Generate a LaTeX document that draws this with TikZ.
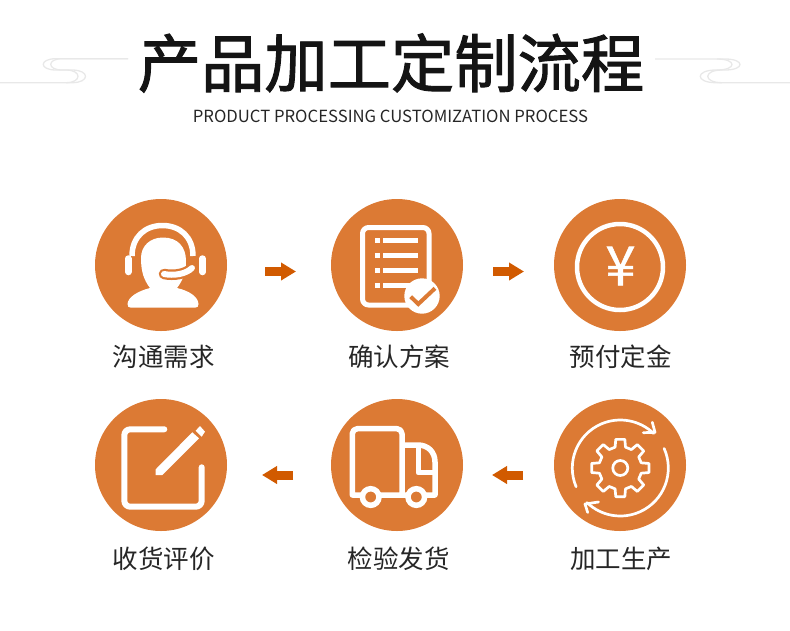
\documentclass[tikz,border=0pt]{standalone}
\usepackage{fontspec}
\usetikzlibrary{positioning,arrows.meta}
\newfontfamily\cjkfont{Noto Sans CJK SC}
\newfontfamily\headfont[FakeBold=1.5]{Noto Sans CJK SC}
\newfontfamily\yenfont[FakeBold=1]{Noto Sans CJK SC}
\definecolor{badgefill}{RGB}{220,122,52}
\definecolor{arrowfill}{RGB}{209,90,0}
\definecolor{swirl}{RGB}{232,232,232}
\tikzset{
  >=Triangle,
}

\begin{document}
\begin{tikzpicture}[
  x=1pt,y=-1pt,
  badge/.style={circle,fill=badgefill,minimum size=132pt,inner sep=0pt,outer sep=0pt},
  caption/.style={font=\cjkfont\fontsize{25.5}{26}\selectfont,text=black!85,inner sep=0pt},
  flow/.style={arrowfill,line width=9pt,-{Triangle[length=15pt,width=17pt]}},
  icon/.style={draw=white,line width=5pt,line join=round},
  swirlline/.style={draw=swirl,line width=1.3pt}
]
\useasboundingbox (0,0) rectangle (790,630);

% heading
\node[font=\headfont\fontsize{63.3}{64}\selectfont,text=black!92,inner sep=0pt] (title) at (391,63) {产品加工定制流程};
\node[font=\cjkfont\fontsize{16.7}{17}\selectfont,text=black!85,inner sep=0pt] (subtitle) at (390.5,116) {PRODUCT PROCESSING CUSTOMIZATION PROCESS};

% swirls
\draw[swirlline] (128,58.7) -- (56,58.7) .. controls (39,58.7) and (39,70) .. (56,70) -- (66,70) .. controls (82,70) and (82,82.7) .. (66,82.7);
\draw[swirlline] (128,58.7) -- (62,58.7) .. controls (47,58.7) and (47,70) .. (62,70) -- (72,70) .. controls (90,70) and (90,82.7) .. (72,82.7) -- (0,82.7);
\draw[swirlline] (655,59) -- (725,59) .. controls (745,59) and (745,70) .. (725,70) -- (716,70) .. controls (695,70) and (695,82.7) .. (716,82.7) -- (790,82.7);
\draw[swirlline] (717,59) .. controls (737,59) and (737,70) .. (717,70) -- (722,70) .. controls (703,70) and (703,82.7) .. (722,82.7);

% badges
\node[badge] (need) at (161,265) {};
\node[badge,right=104pt of need] (plan) {};
\node[badge,right=91pt of plan] (deposit) {};
\node[badge,below=68pt of need] (review) {};
\node[badge,below=68pt of plan] (ship) {};
\node[badge,below=68pt of deposit] (produce) {};

% captions
\node[caption,below=14pt of need,xshift=2.5pt] (needtext) {沟通需求};
\node[caption,below=14pt of plan,xshift=2pt] (plantext) {确认方案};
\node[caption,below=14pt of deposit,xshift=0.5pt] (deposittext) {预付定金};
\node[caption,below=15.5pt of review,xshift=2.5pt] (reviewtext) {收货评价};
\node[caption,below=15.5pt of ship,xshift=1.5pt] (shiptext) {检验发货};
\node[caption,below=15.5pt of produce,xshift=1pt] (producetext) {加工生产};

% arrows
\draw[flow,shorten <=38pt,shorten >=35pt] ([yshift=-6.5pt]need.east) -- ([yshift=-6.5pt]plan.west);
\draw[flow,shorten <=30pt,shorten >=30pt] ([yshift=-6.5pt]plan.east) -- ([yshift=-6.5pt]deposit.west);
\draw[flow,shorten <=31pt,shorten >=29pt] ([yshift=-10pt]produce.west) -- ([yshift=-10pt]ship.east);
\draw[flow,shorten <=38pt,shorten >=35pt] ([yshift=-10pt]ship.west) -- ([yshift=-10pt]review.east);

% headset
\draw[icon,line width=5.5pt] (132,256) .. controls (132,237) and (145,225.5) .. (162.5,225.5) .. controls (180,225.5) and (193,237) .. (193,256);
\draw[white,line width=6.5pt,line cap=round] (128.3,258.5) -- (128.3,272);
\draw[white,line width=6.5pt,line cap=round] (202.4,258.5) -- (202.4,272);
\fill[white] (163,237.5) .. controls (178,237.5) and (186,247) .. (186,261) .. controls (186,272) and (183,280) .. (177,288)
  .. controls (190,291) and (198,297) .. (198.5,304) .. controls (198.5,306.5) and (197.5,307.7) .. (195,307.7) -- (131,307.7)
  .. controls (128.5,307.7) and (127.5,306.5) .. (127.5,304) .. controls (128,297) and (138,291) .. (150,288)
  .. controls (144,280) and (141,272) .. (141,258) .. controls (141,246) and (150,237.5) .. (163,237.5);
\draw[badgefill,line width=10.5pt,line cap=round] (164,274) .. controls (174,276) and (186,274) .. (192,268);
\draw[white,line width=6pt,line cap=round] (164,274) .. controls (174,276) and (186,274) .. (192,268);

% document
\draw[icon,rounded corners=6pt] (362.5,227.5) rectangle (429,305);
\foreach \row in {237.7,252.7,267.7,282.7} {
  \fill[white] (375,\row) rectangle +(5.3,5.3);
  \fill[white] (383,\row) rectangle +(35,5.3);
}
\fill[white] (422,296) circle (17.7pt);
\draw[badgefill,line width=4pt] (410.7,296.7) -- (418.3,304) -- (435,288.3);

% coin
\draw[white,line width=4.5pt] (620,267) circle (43pt);
\node[font=\yenfont\fontsize{54}{54}\selectfont,text=white,inner sep=0pt] (yen) at (620.5,266) {¥};

% note
\draw[white,line width=6pt,line cap=round,rounded corners=6pt] (164.3,429.3) -- (124.3,429.3) -- (124.3,506.7) -- (201.7,506.7) -- (201.7,467.3);
\fill[white] (192.3,432.3) -- (199,438.3) -- (162.3,475) -- (155.7,475) -- (155.7,469.3) -- cycle;
\fill[white] (200,426) -- (205,431.7) -- (201.7,436.7) -- (195.7,430.7) -- cycle;

% truck
\draw[icon,line width=5.5pt] (402,495) [rounded corners=5pt] -- (402,428.7) -- (352.3,428.7) -- (352.3,445) [sharp corners] -- (352.3,495) -- (435,495) -- (435,461.7);
\draw[icon,line width=5.5pt] (402,445) -- (418,445) .. controls (428,445) and (435,452) .. (435,462);
\draw[icon,line width=5.5pt] (418.3,446) -- (418.3,472.7) -- (435,472.7);
\draw[draw=white,fill=badgefill,line width=5.5pt] (370.7,497) circle (8.3pt);
\draw[draw=white,fill=badgefill,line width=5.5pt] (416.3,497) circle (8.3pt);

% gear
\begin{scope}[shift={(620.3,468)},white,line width=2.7pt,line join=round,line cap=round]
  \draw (-14:21.5) \foreach \tooth in {0,45,...,315} { -- (\tooth-14:21.5) -- (\tooth-9:29) -- (\tooth+9:29) -- (\tooth+14:21.5) } -- cycle;
  \draw (0,0) circle (7.5pt);
  \draw (157:48) arc (-157:-314:48pt);
  \draw (336:48) arc (-336:-494:48pt);
\end{scope}
\draw[white,line width=2.7pt,line join=round,line cap=round] (643.3,432.7) -- (655,432.3) -- (652.3,422.3);
\draw[white,line width=2.7pt,line join=round,line cap=round] (598.5,502) -- (585,504) -- (587.7,512.5);
\end{tikzpicture}
\end{document}
